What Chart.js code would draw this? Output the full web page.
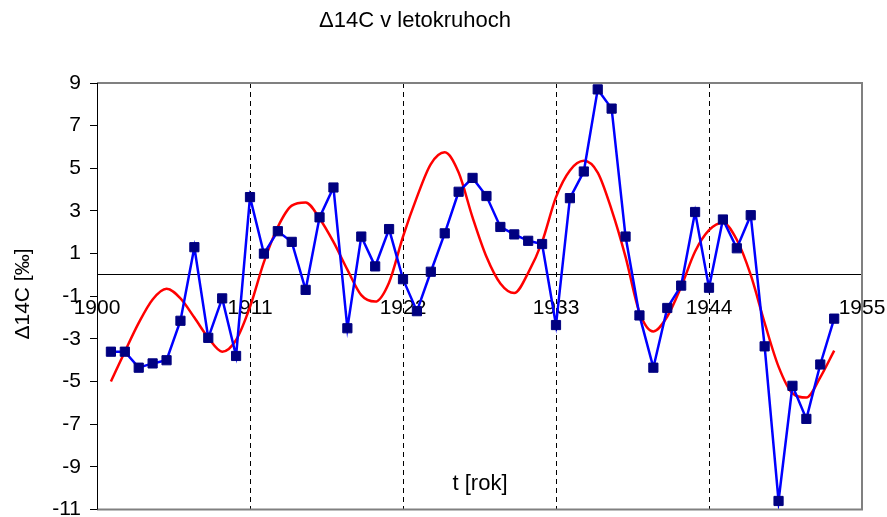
<!DOCTYPE html>
<html>
<head>
<meta charset="utf-8">
<script src="https://cdn.jsdelivr.net/npm/chart.js@4.4.0/dist/chart.umd.min.js"></script>
<style>
    html, body { margin: 0; padding: 0; background: #fff; }
    #wrap { width: 887px; height: 517px; }
</style>
</head>
<body>
<div id="wrap"><canvas id="c14-chart"></canvas></div>
<script>
const years = [1901, 1902, 1903, 1904, 1905, 1906, 1907, 1908, 1909, 1910,
    1911, 1912, 1913, 1914, 1915, 1916, 1917, 1918, 1919, 1920,
    1921, 1922, 1923, 1924, 1925, 1926, 1927, 1928, 1929, 1930,
    1931, 1932, 1933, 1934, 1935, 1936, 1937, 1938, 1939, 1940,
    1941, 1942, 1943, 1944, 1945, 1946, 1947, 1948, 1949, 1950,
    1951, 1952, 1953];

// measured delta 14C in tree rings (blue)
const measured = [-3.6, -3.6, -4.35, -4.15, -4.0, -2.15, 1.3, -2.95, -1.1, -3.8,
    3.65, 1.0, 2.05, 1.55, -0.7, 2.7, 4.1, -2.5, 1.8, 0.4,
    2.15, -0.2, -1.7, 0.15, 1.95, 3.9, 4.55, 3.7, 2.25, 1.9,
    1.6, 1.45, -2.35, 3.6, 4.85, 8.7, 7.8, 1.8, -1.9, -4.35,
    -1.55, -0.5, 2.95, -0.6, 2.6, 1.25, 2.8, -3.35, -10.6, -5.2,
    -6.75, -4.2, -2.05];

// smoothed curve (red)
const smoothed = [-5.0, -3.6, -2.25, -1.15, -0.65, -1.1, -2.0, -2.95, -3.6, -3.05,
    -1.5, 0.6, 2.25, 3.25, 3.4, 2.65, 1.55, 0.25, -0.95, -1.25,
    -0.35, 1.8, 3.65, 5.2, 5.75, 4.8, 2.7, 0.85, -0.4, -0.85,
    0.1, 1.55, 3.65, 4.9, 5.35, 4.8, 3.05, 0.85, -1.75, -2.65,
    -1.95, -0.55, 1.1, 2.1, 2.45, 1.65, 0.0, -2.25, -4.3, -5.55,
    -5.75, -4.8, -3.55];

const xTicks = [1900, 1911, 1922, 1933, 1944, 1955];
const yTicks = [-11, -9, -7, -5, -3, -1, 1, 3, 5, 7, 9];

const FONT = '"Liberation Sans", Arial, sans-serif';

const textPlugin = {
    id: 'textPlugin',
    afterDraw(chart) {
        const ctx = chart.ctx;
        const area = chart.chartArea;
        ctx.save();
        // frame (top, right, bottom)
        ctx.strokeStyle = '#808080';
        ctx.lineWidth = 2;
        ctx.beginPath();
        ctx.moveTo(area.left, area.top);
        ctx.lineTo(area.right, area.top);
        ctx.lineTo(area.right, area.bottom);
        ctx.lineTo(area.left, area.bottom);
        ctx.stroke();
        ctx.strokeStyle = '#000';
        ctx.lineWidth = 1;
        ctx.beginPath();
        ctx.moveTo(area.left + 0.5, area.top);
        ctx.lineTo(area.left + 0.5, area.bottom);
        ctx.stroke();

        ctx.fillStyle = '#000';
        ctx.textAlign = 'center';
        ctx.textBaseline = 'middle';
        ctx.font = '22px ' + FONT;
        ctx.fillText('\u039414C v letokruhoch', 415, 21);
        ctx.font = '22px ' + FONT;
        ctx.fillText('t [rok]', 480, 484);
        ctx.font = '21px ' + FONT;
        ctx.translate(23, 294);
        ctx.rotate(-Math.PI / 2);
        ctx.fillText('\u039414C [\u2030]', 0, 0);
        ctx.restore();
    }
};

new Chart(document.getElementById('c14-chart'), {
    type: 'line',
    data: {
        datasets: [
            {
                label: 'merane',
                data: years.map((y, i) => ({x: y, y: measured[i]})),
                borderColor: '#0000FF',
                borderWidth: 2.5,
                pointStyle: 'rect',
                pointRadius: 6.5,
                pointBackgroundColor: '#000080',
                pointBorderColor: '#000080',
                pointBorderWidth: 1,
                tension: 0
            },
            {
                label: 'vyhladene',
                data: years.map((y, i) => ({x: y, y: smoothed[i]})),
                borderColor: '#FF0000',
                borderWidth: 2.5,
                pointRadius: 0,
                cubicInterpolationMode: 'monotone'
            }
        ]
    },
    options: {
        responsive: true,
        maintainAspectRatio: false,
        animation: false,
        layout: {padding: {left: 0, right: 25, top: 83, bottom: 7}},
        plugins: {
            legend: {display: false},
            title: {display: false},
            tooltip: {enabled: false}
        },
        scales: {
            x: {
                type: 'linear',
                position: {y: 0},
                min: 1900,
                max: 1955,
                afterBuildTicks: (scale) => {
                    scale.ticks = xTicks.map(v => ({value: v}));
                },
                afterFit: (scale) => {
                    scale.paddingLeft = 0;
                    scale.paddingRight = 0;
                },
                grid: {
                    drawTicks: false,
                    lineWidth: 1,
                    color: (c) => (c.tick && (c.tick.value === 1900 || c.tick.value === 1955)) ? 'rgba(0,0,0,0)' : '#000'
                },
                border: {display: true, color: '#000', width: 1, dash: [5, 4]},
                ticks: {
                    autoSkip: false,
                    maxRotation: 0,
                    padding: 21,
                    color: '#000',
                    font: {family: FONT, size: 21},
                    callback: (v) => String(v)
                }
            },
            y: {
                type: 'linear',
                min: -11,
                max: 9,
                afterBuildTicks: (scale) => {
                    scale.ticks = yTicks.map(v => ({value: v}));
                },
                afterFit: (scale) => {
                    scale.width = 97;
                    scale.paddingTop = 0;
                    scale.paddingBottom = 0;
                },
                grid: {
                    drawOnChartArea: false,
                    drawTicks: true,
                    tickLength: 7,
                    color: '#000'
                },
                border: {display: true, color: '#000', width: 1},
                ticks: {
                    autoSkip: false,
                    padding: 9,
                    color: '#000',
                    font: {family: FONT, size: 21},
                    callback: (v) => String(v)
                }
            }
        }
    },
    plugins: [textPlugin]
});
</script>
</body>
</html>
